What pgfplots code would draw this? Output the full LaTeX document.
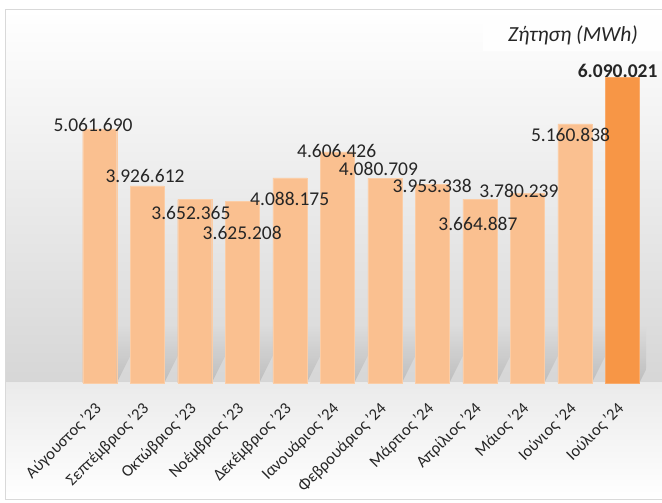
\documentclass[border=0pt]{standalone}
\usepackage{pgfplots}
\pgfplotsset{compat=1.18}
\usepackage{pgfplotstable}
\usepackage{fontspec}
\setmainfont{Carlito}
\definecolor{barlight}{HTML}{FAC090}
\definecolor{bardark}{HTML}{F79646}
\definecolor{txt}{HTML}{262626}

\pgfplotstableread{
x v lab dx dy
0 5061690 5.061.690 -6.7 4.4
1 3926612 3.926.612 -2.2 9.9
2 3652365 3.652.365 -3.8 -13.3
3 3625208 3.625.208 0 -32
4 4088175 4.088.175 0 -21.2
5 4606426 4.606.426 -0.6 0.8
6 4080709 4.080.709 -6.3 9.1
7 3953338 3.953.338 0 -1.5
8 3664887 3.664.887 -1.8 -25
9 3780239 3.780.239 -8.3 2.2
10 5160838 5.160.838 -4.2 -11.1
}\dataA
\pgfplotstableread{
x v lab dx dy
11 6090021 6.090.021 -4.6 6.3
}\dataB

\begin{document}
\begin{tikzpicture}[x=1pt,y=1pt]
\useasboundingbox (-76,-120) rectangle (586,383);
\fill[white] (-76,-120) rectangle (586,383);
% chart area background
\shade[top color=white, bottom color=black!16] (-70,0) rectangle (587,373);
\shade[top color=black!8, bottom color=white] (-70,-117) rectangle (587,0);
\draw[black!15, line width=1pt] (587,373) -- (-70,373) -- (-70,-117) -- (587,-117);
% title box
\fill[white, opacity=0.85] (407,332) rectangle (587,372);
\node[font=\fontsize{21.5}{24}\selectfont\itshape, text=txt] at (497,348) {Ζήτηση (MWh)};
\begin{axis}[
  scale only axis, width=570pt, height=326.3pt,
  xmin=-0.5, xmax=11.5, ymin=0, ymax=6500000,
  clip=false,
  axis line style={draw=none},
  major tick length=0pt,
  ytick=\empty,
  xtick={0,...,11},
  xticklabels={Αύγουστος '23, Σεπτέμβριος '23, Οκτώβριος '23, Νοέμβριος '23, Δεκέμβριος '23, Ιανουάριος '24, Φεβρουάριος '24, Μάρτιος '24, Απρίλιος '24, Μάιος '24, Ιούνιος '24, Ιούλιος '24},
  xticklabel style={rotate=45, anchor=north east, inner sep=0pt, font=\fontsize{16.5}{19}\selectfont, text=txt, xshift=-17pt, yshift=-8.5pt},
  ybar, bar width=34pt,
  nodes near coords={\pgfplotspointmeta},
  point meta=explicit symbolic,
  visualization depends on={\thisrow{dx} \as \dx},
  visualization depends on={\thisrow{dy} \as \dy},
]
% floor shadows (decoration)
\begin{scope}
\clip (axis cs:-0.5,0) rectangle (axis cs:11.5,6500000);
\pgfplotsinvokeforeach{0,...,11}{
  \shade[bottom color=black!27, top color=black!14, opacity=0.85]
   ([xshift=-17pt]axis cs:#1,0) -- ([xshift=17pt]axis cs:#1,0) --
   ([xshift=45pt,yshift=56pt]axis cs:#1,0) -- ([xshift=11pt,yshift=56pt]axis cs:#1,0) -- cycle;
}
\end{scope}
\addplot[fill=barlight, draw=barlight!80!white, bar shift=0pt,
  nodes near coords style={anchor=center, xshift=\dx pt, yshift=\dy pt, font=\fontsize{19.5}{22}\selectfont, text=txt}]
  table[x=x, y=v, meta=lab] {\dataA};
\addplot[fill=bardark, draw=bardark!80!white, bar shift=0pt,
  nodes near coords style={anchor=center, xshift=\dx pt, yshift=\dy pt, font=\fontsize{19.5}{22}\selectfont\bfseries, text=txt}]
  table[x=x, y=v, meta=lab] {\dataB};
\end{axis}
\end{tikzpicture}
\end{document}
